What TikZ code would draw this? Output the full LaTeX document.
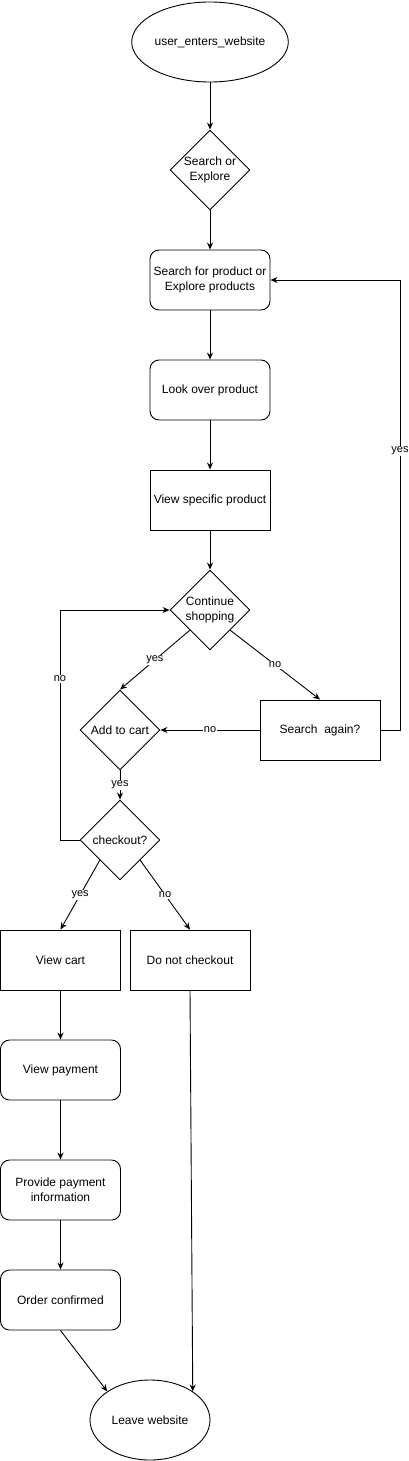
\documentclass[tikz,border=0pt]{standalone}
\usepackage{fontspec}
\setmainfont{Liberation Sans}
\usetikzlibrary{shapes.geometric,arrows.meta}

\begin{document}
\begin{tikzpicture}[x=1pt,y=-1pt,
    font=\fontsize{12}{15}\selectfont,
    line width=0.9pt,
    term/.style={ellipse,draw,minimum width=120pt,minimum height=80pt,inner sep=0pt},
    choice/.style={diamond,draw,minimum width=80pt,minimum height=80pt,inner sep=0pt,align=center},
    roundbox/.style={rectangle,draw,rounded corners=9pt,minimum width=120pt,minimum height=60pt,align=center},
    plainbox/.style={rectangle,draw,minimum width=120pt,minimum height=60pt,align=center},
    lbl/.style={fill=white,inner sep=1pt,font=\fontsize{11}{13}\selectfont},
    flow/.style={-{Stealth[length=7pt,width=6pt]}}]
        \useasboundingbox (0,0) rectangle (409,1461);
        % main column
        \node[term] (start) at (210,42) {user\_enters\_website};
        \node[choice] (srch) at (210,170) {Search or\\Explore};
        \node[roundbox] (explore) at (210,280) {Search for product or\\Explore products};
        \node[roundbox] (look) at (210,390) {Look over product};
        \node[plainbox] (view) at (210,500) {View specific product};
        \node[choice] (cont) at (210,610) {Continue\\shopping};
        \node[choice] (cart) at (120,730) {Add to cart};
        \node[plainbox] (again) at (320,730) {Search\ \ again?};
        \node[choice] (chk) at (120,840) {checkout?};
        % checkout branch
        \node[plainbox] (vcart) at (60.5,960) {View cart};
        \node[plainbox] (nock) at (190,960) {Do not checkout};
        \node[roundbox] (vpay) at (60.5,1070) {View payment};
        \node[roundbox] (prov) at (60.5,1190) {Provide payment\\information};
        \node[roundbox] (conf) at (60.5,1300) {Order confirmed};
        \node[term] (leave) at (150,1420) {Leave website};
        \coordinate (yesturn) at (400,730);
        \coordinate (noturn) at (60,840);

        \draw[flow] (start) -- (srch);
        \draw[flow] (srch) -- (explore);
        \draw[flow] (explore) -- (look);
        \draw[flow] (look) -- (view);
        \draw[flow] (view) -- (cont);
        \draw[flow] (cont.south west) -- node[lbl] {yes} (cart.north);
        \draw[flow] (cont.south east) -- node[lbl] {no} (again.north);
        \draw[flow] (again) -- node[lbl] {no} (cart);
        \draw[flow] (again.east) -- (yesturn) |- node[lbl,pos=0.31] {yes} (explore.east);
        \draw[flow] (cart) -- node[lbl] {yes} (chk);
        \draw[flow] (chk.west) -- (noturn) |- node[lbl,pos=0.35] {no} (cont.west);
        \draw[flow] (chk.south west) -- node[lbl] {yes} (vcart.north);
        \draw[flow] (chk.south east) -- node[lbl] {no} (nock.north);
        \draw[flow] (vcart) -- (vpay);
        \draw[flow] (vpay) -- (prov);
        \draw[flow] (prov) -- (conf);
        \draw[flow] (conf.south) -- (leave.north west);
        \draw[flow] (nock.south) -- (leave.north east);
\end{tikzpicture}
\end{document}
